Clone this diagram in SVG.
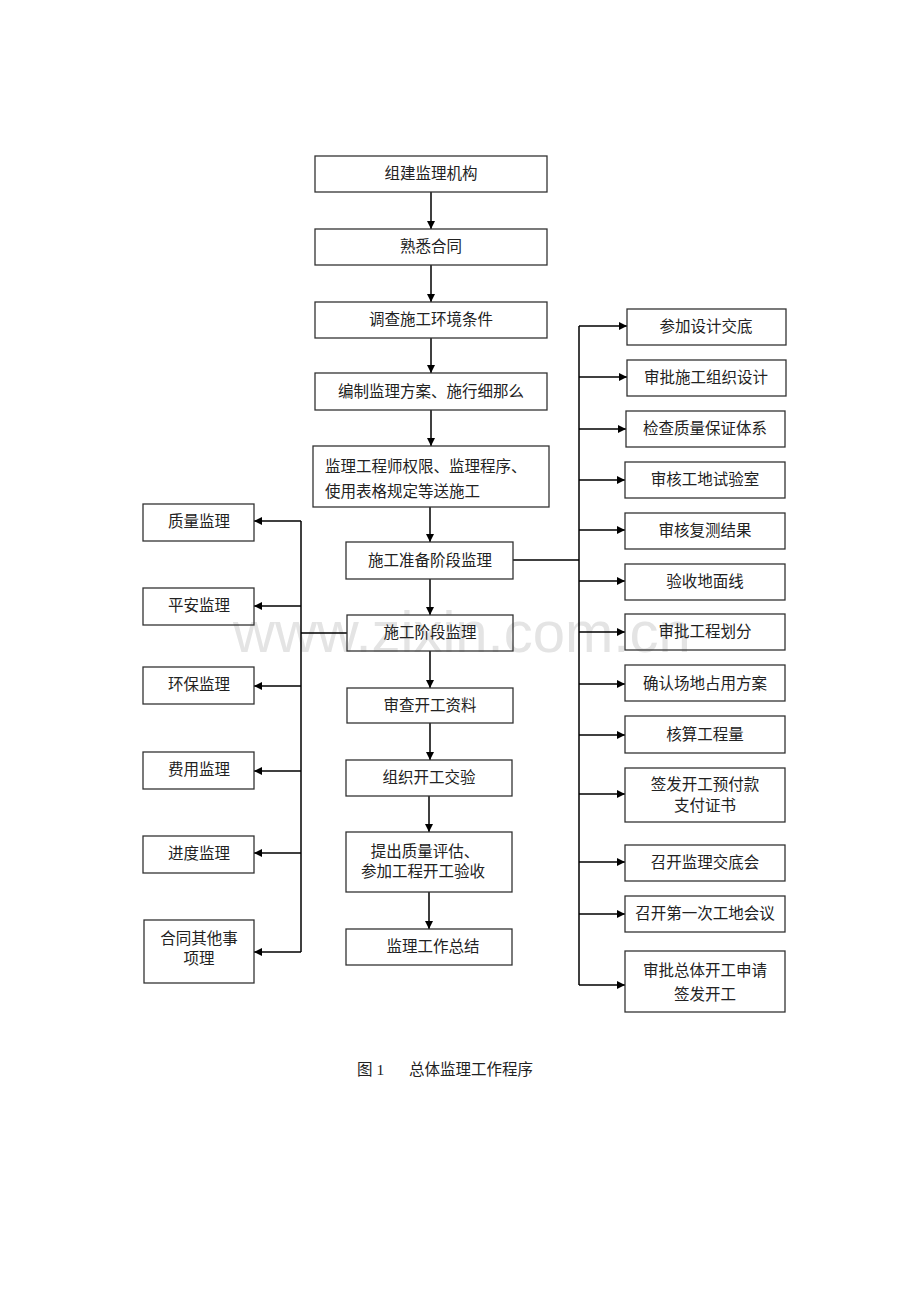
<svg xmlns="http://www.w3.org/2000/svg" width="920" height="1302" viewBox="0 0 920 1302">
<style>
.box{fill:none;stroke:#333;stroke-width:1.3}
.t{font-family:"Liberation Serif","Noto Sans CJK SC",serif;font-size:15.5px;fill:#222;text-anchor:middle}
.c{fill:none;stroke:#000;stroke-width:1.5}
.wm{font-family:"Liberation Sans",Arial,sans-serif;font-size:58px;fill:#e4e4e4}
</style>
<defs>
<marker id="ah" viewBox="0 0 10 10" refX="10" refY="5" markerWidth="9" markerHeight="8" markerUnits="userSpaceOnUse" orient="auto">
<path d="M0,0 L10,5 L0,10 z" fill="#000"/>
</marker>
</defs>
<rect width="920" height="1302" fill="#fff"/>
<text class="wm" x="233" y="652">www.zixin.com.cn</text>

<g id="connectors">
<line class="c" x1="431" y1="192" x2="431" y2="229" marker-end="url(#ah)"/>
<line class="c" x1="431" y1="265" x2="431" y2="302" marker-end="url(#ah)"/>
<line class="c" x1="431" y1="338" x2="431" y2="373" marker-end="url(#ah)"/>
<line class="c" x1="431" y1="410" x2="431" y2="446" marker-end="url(#ah)"/>
<line class="c" x1="430" y1="507" x2="430" y2="542" marker-end="url(#ah)"/>
<line class="c" x1="430" y1="579" x2="430" y2="615" marker-end="url(#ah)"/>
<line class="c" x1="430" y1="651" x2="430" y2="688" marker-end="url(#ah)"/>
<line class="c" x1="430" y1="723" x2="430" y2="760" marker-end="url(#ah)"/>
<line class="c" x1="429" y1="796" x2="429" y2="832" marker-end="url(#ah)"/>
<line class="c" x1="429" y1="892" x2="429" y2="929" marker-end="url(#ah)"/>
<!-- left branch -->
<line class="c" x1="347" y1="633" x2="301" y2="633"/>
<line class="c" x1="301" y1="521" x2="301" y2="952"/>
<line class="c" x1="301" y1="521" x2="254" y2="521" marker-end="url(#ah)"/>
<line class="c" x1="301" y1="606" x2="254" y2="606" marker-end="url(#ah)"/>
<line class="c" x1="301" y1="686" x2="254" y2="686" marker-end="url(#ah)"/>
<line class="c" x1="301" y1="771" x2="254" y2="771" marker-end="url(#ah)"/>
<line class="c" x1="301" y1="853" x2="254" y2="853" marker-end="url(#ah)"/>
<line class="c" x1="301" y1="952" x2="254" y2="952" marker-end="url(#ah)"/>
<!-- right branch -->
<line class="c" x1="513" y1="560" x2="579" y2="560"/>
<line class="c" x1="579" y1="326" x2="579" y2="985"/>
<line class="c" x1="579" y1="326" x2="627" y2="326" marker-end="url(#ah)"/>
<line class="c" x1="579" y1="377" x2="627" y2="377" marker-end="url(#ah)"/>
<line class="c" x1="579" y1="429" x2="626" y2="429" marker-end="url(#ah)"/>
<line class="c" x1="579" y1="480" x2="625" y2="480" marker-end="url(#ah)"/>
<line class="c" x1="579" y1="530" x2="625" y2="530" marker-end="url(#ah)"/>
<line class="c" x1="579" y1="581" x2="625" y2="581" marker-end="url(#ah)"/>
<line class="c" x1="579" y1="632" x2="625" y2="632" marker-end="url(#ah)"/>
<line class="c" x1="579" y1="684" x2="625" y2="684" marker-end="url(#ah)"/>
<line class="c" x1="579" y1="735" x2="625" y2="735" marker-end="url(#ah)"/>
<line class="c" x1="579" y1="794" x2="625" y2="794" marker-end="url(#ah)"/>
<line class="c" x1="579" y1="862" x2="625" y2="862" marker-end="url(#ah)"/>
<line class="c" x1="579" y1="914" x2="625" y2="914" marker-end="url(#ah)"/>
<line class="c" x1="579" y1="985" x2="625" y2="985" marker-end="url(#ah)"/>
</g>

<!-- center column -->
<g id="n1"><rect class="box" x="315" y="156" width="232" height="36"/><text class="t" x="431" y="179">组建监理机构</text></g>
<g id="n2"><rect class="box" x="315" y="229" width="232" height="36"/><text class="t" x="431" y="252">熟悉合同</text></g>
<g id="n3"><rect class="box" x="315" y="302" width="232" height="36"/><text class="t" x="431" y="325">调查施工环境条件</text></g>
<g id="n4"><rect class="box" x="315" y="373" width="232" height="37"/><text class="t" x="431" y="397">编制监理方案、施行细那么</text></g>
<g id="n5"><rect class="box" x="313" y="446" width="236" height="61"/><text class="t" x="325" y="472" style="text-anchor:start">监理工程师权限、监理程序、</text><text class="t" x="325" y="497" style="text-anchor:start">使用表格规定等送施工</text></g>
<g id="n6"><rect class="box" x="346" y="542" width="167" height="37"/><text class="t" x="430" y="566">施工准备阶段监理</text></g>
<g id="n7"><rect class="box" x="347" y="615" width="166" height="36"/><text class="t" x="430" y="638">施工阶段监理</text></g>
<g id="n8"><rect class="box" x="347" y="688" width="166" height="35"/><text class="t" x="430" y="711">审查开工资料</text></g>
<g id="n9"><rect class="box" x="346" y="760" width="166" height="36"/><text class="t" x="429" y="783">组织开工交验</text></g>
<g id="n10"><rect class="box" x="346" y="832" width="166" height="60"/><text class="t" x="425" y="857">提出质量评估、</text><text class="t" x="423" y="877">参加工程开工验收</text></g>
<g id="n11"><rect class="box" x="346" y="929" width="166" height="36"/><text class="t" x="433" y="952">监理工作总结</text></g>

<!-- left column -->
<g id="l1"><rect class="box" x="143" y="504" width="111" height="37"/><text class="t" x="199" y="527">质量监理</text></g>
<g id="l2"><rect class="box" x="143" y="588" width="111" height="37"/><text class="t" x="199" y="611">平安监理</text></g>
<g id="l3"><rect class="box" x="143" y="667" width="111" height="37"/><text class="t" x="199" y="690">环保监理</text></g>
<g id="l4"><rect class="box" x="143" y="752" width="111" height="37"/><text class="t" x="199" y="775">费用监理</text></g>
<g id="l5"><rect class="box" x="143" y="836" width="111" height="37"/><text class="t" x="199" y="859">进度监理</text></g>
<g id="l6"><rect class="box" x="144" y="920" width="110" height="63"/><text class="t" x="199" y="944">合同其他事</text><text class="t" x="199" y="964">项理</text></g>

<!-- right column -->
<g id="r1"><rect class="box" x="627" y="309" width="159" height="36"/><text class="t" x="706" y="332">参加设计交底</text></g>
<g id="r2"><rect class="box" x="627" y="360" width="159" height="36"/><text class="t" x="706" y="383">审批施工组织设计</text></g>
<g id="r3"><rect class="box" x="626" y="411" width="159" height="36"/><text class="t" x="705" y="434">检查质量保证体系</text></g>
<g id="r4"><rect class="box" x="625" y="462" width="160" height="36"/><text class="t" x="705" y="485">审核工地试验室</text></g>
<g id="r5"><rect class="box" x="625" y="513" width="160" height="36"/><text class="t" x="705" y="536">审核复测结果</text></g>
<g id="r6"><rect class="box" x="625" y="564" width="160" height="36"/><text class="t" x="705" y="587">验收地面线</text></g>
<g id="r7"><rect class="box" x="625" y="614" width="160" height="36"/><text class="t" x="705" y="637">审批工程划分</text></g>
<g id="r8"><rect class="box" x="625" y="665" width="160" height="36"/><text class="t" x="705" y="689">确认场地占用方案</text></g>
<g id="r9"><rect class="box" x="625" y="716" width="160" height="37"/><text class="t" x="705" y="740">核算工程量</text></g>
<g id="r10"><rect class="box" x="625" y="768" width="160" height="54"/><text class="t" x="705" y="790">签发开工预付款</text><text class="t" x="705" y="811">支付证书</text></g>
<g id="r11"><rect class="box" x="625" y="845" width="160" height="36"/><text class="t" x="705" y="868">召开监理交底会</text></g>
<g id="r12"><rect class="box" x="625" y="896" width="160" height="36"/><text class="t" x="705" y="919">召开第一次工地会议</text></g>
<g id="r13"><rect class="box" x="625" y="951" width="160" height="61"/><text class="t" x="705" y="976">审批总体开工申请</text><text class="t" x="705" y="1000">签发开工</text></g>

<text class="t" x="357" y="1075" style="text-anchor:start">图 1</text>
<text class="t" x="409" y="1075" style="text-anchor:start">总体监理工作程序</text>
</svg>
